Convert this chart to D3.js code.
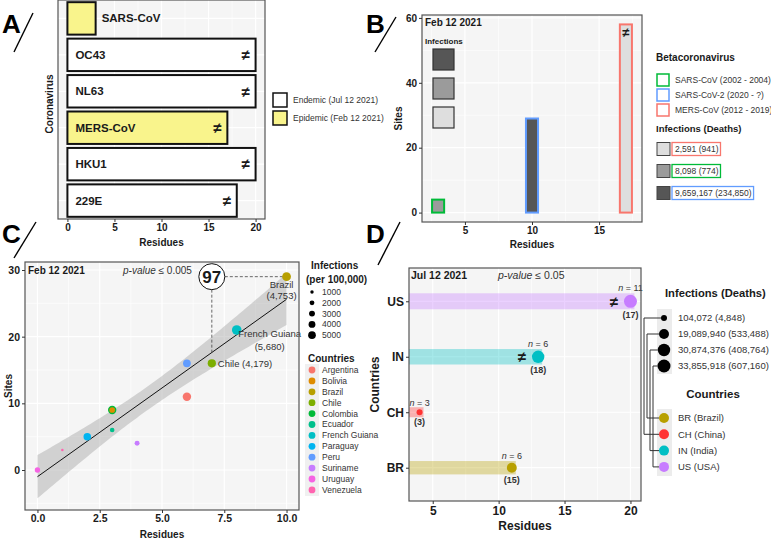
<!DOCTYPE html>
<html>
<head>
<meta charset="utf-8">
<script src="https://cdn.jsdelivr.net/npm/d3@7"></script>
<style>
  body { margin: 0; background: #fff; }
  svg { display: block; font-family: 'Liberation Sans', Arial, sans-serif; }
</style>
</head>
<body>
<svg width="771" height="539"></svg>
<script>
// A: common coronaviruses
const coronaviruses = ['SARS-CoV', 'OC43', 'NL63', 'MERS-CoV', 'HKU1', '229E']
const coronaResidues = [3, 20, 20, 17, 20, 18]
const coronaStatus = ['Epidemic', 'Endemic', 'Endemic', 'Epidemic', 'Endemic', 'Endemic']
const coronaDiffers = [false, true, true, true, true, true]
const statusKeys = ['Endemic', 'Epidemic']
const statusLabels = ['Endemic (Jul 12 2021)', 'Epidemic (Feb 12 2021)']

// B: betacoronavirus
const betaNames = ['SARS-CoV', 'SARS-CoV-2', 'MERS-CoV']
const betaLabels = ['SARS-CoV (2002 - 2004)', 'SARS-CoV-2 (2020 - ?)', 'MERS-CoV (2012 - 2019)']
const betaResidues = [3, 10, 17]
const betaSites = [4, 29, 58]
const betaInfections = [8098, 9659167, 2591]
const betaDeaths = [774, 234850, 941]
const betaDiffers = [false, false, true]

// C: south america, Feb 12 2021
const countries = ['Argentina', 'Bolivia', 'Brazil', 'Chile', 'Colombia', 'Ecuador', 'French Guiana',
  'Paraguay', 'Peru', 'Suriname', 'Uruguay', 'Venezuela']
const countryResidues = [6, 3, 10, 7, 3, 3, 8, 2, 6, 4, 0, 1]
const countrySites = [11, 9, 29, 16, 9, 6, 21, 5, 16, 4, 0, 3]
const countryIncidence = [4400, 2000, 4753, 4179, 4300, 1300, 5680, 3500, 3700, 1500, 1800, 400]
const incidenceBreaks = [1000, 2000, 3000, 4000, 5000]
const callout = 97

// D: Jul 12 2021
const regions = ['BR', 'CH', 'IN', 'US']
const regionNames = ['Brazil', 'China', 'India', 'USA']
const regionResidues = [11, 4, 13, 20]
const regionSites = [15, 3, 18, 17]
const regionN = [6, 3, 6, 11]
const regionInfections = [19089940, 104072, 30874376, 33855918]
const regionDeaths = [533488, 4848, 408764, 607160]
const regionDiffers = [false, false, true, true]

const FONT = "'Liberation Sans', Arial, sans-serif"
const PANEL_BG = '#f5f5f5'
const BORDER = '#555'
const INK = '#1a1a1a'
const HUE = ['#F8766D', '#DE8C00', '#B79F00', '#7CAE00', '#00BA38', '#00C08B', '#00BFC4',
  '#00B4F0', '#619CFF', '#C77CFF', '#F564E3', '#FF64B0']
const REGION_HUE = ['#B8A000', '#FF3333', '#00BFC4', '#C77CFF']
const BETA_HUE = ['#00BA38', '#619CFF', '#F8766D']
const fmt = d3.format(',')

const svg = d3.select('svg')

function panel (g, x, y, grid) {
  const [left, right] = d3.extent(x.range())
  const [top, bottom] = d3.extent(y.range())
  g.append('rect')
    .attr('x', left).attr('y', top)
    .attr('width', right - left).attr('height', bottom - top)
    .attr('fill', PANEL_BG)
  const lines = g.append('g').attr('stroke', '#fff')
  const vertical = (vals, w) => lines.selectAll(null).data(vals).enter().append('line')
    .attr('x1', d => d).attr('x2', d => d).attr('y1', top).attr('y2', bottom).attr('stroke-width', w)
  const horizontal = (vals, w) => lines.selectAll(null).data(vals).enter().append('line')
    .attr('y1', d => d).attr('y2', d => d).attr('x1', left).attr('x2', right).attr('stroke-width', w)
  vertical(grid.xMinor || [], 0.6)
  horizontal(grid.yMinor || [], 0.6)
  vertical(grid.xMajor || [], 1.2)
  horizontal(grid.yMajor || [], 1.2)
  return { left, right, top, bottom }
}

function frame (g, b) {
  g.append('rect')
    .attr('x', b.left).attr('y', b.top)
    .attr('width', b.right - b.left).attr('height', b.bottom - b.top)
    .attr('fill', 'none').attr('stroke', BORDER).attr('stroke-width', 1.2)
}

function axis (g, gen, transform, size) {
  const sel = g.append('g').attr('transform', transform).call(gen)
  sel.attr('font-family', FONT).attr('font-size', size).attr('font-weight', 'bold')
  sel.select('.domain').remove()
  sel.selectAll('.tick line').attr('stroke', '#333')
  sel.selectAll('.tick text').attr('fill', INK)
  return sel
}

function label (g, x, y, text, opts = {}) {
  return g.append('text')
    .attr('x', x).attr('y', y).attr('dy', '0.35em')
    .attr('font-size', opts.size || 10)
    .attr('font-weight', opts.weight || 'normal')
    .attr('font-style', opts.style || null)
    .attr('text-anchor', opts.anchor || 'start')
    .attr('fill', opts.fill || INK)
    .attr('transform', opts.rotate ? `rotate(-90 ${x} ${y})` : null)
    .text(text)
}

function letter (x, y, text, slash) {
  svg.append('text').attr('x', x).attr('y', y)
    .attr('font-size', 26).attr('font-weight', 'bold').attr('fill', '#000')
    .text(text)
  svg.append('line')
    .attr('x1', slash[0]).attr('y1', slash[1]).attr('x2', slash[2]).attr('y2', slash[3])
    .attr('stroke', '#000').attr('stroke-width', 1.4)
}

function pValue (g, x, y, value, size) {
  const t = g.append('text').attr('x', x).attr('y', y).attr('dy', '0.35em')
    .attr('font-size', size).attr('fill', '#333')
  t.append('tspan').attr('font-style', 'italic').text('p-value')
  t.append('tspan').text(` ≤ ${value}`)
}

// ---------- A ----------
const a = svg.append('g')
const ax = d3.scaleLinear().domain([-1, 21]).range([58, 265])
const ay = d3.scaleBand().domain(coronaviruses).range([0, 219]).paddingInner(0.11).paddingOuter(0.06)
const aTicks = [0, 5, 10, 15, 20]
const aBox = panel(a, ax, ay, {
  xMajor: aTicks.map(ax),
  xMinor: [2.5, 7.5, 12.5, 17.5].map(ax),
  yMajor: coronaviruses.map(d => ay(d) + ay.bandwidth() / 2)
})
const statusFill = d3.scaleOrdinal().domain(statusKeys).range(['#ffffff', '#f9f48c'])

a.selectAll(null).data(coronaviruses).enter().append('rect')
  .attr('x', ax(0)).attr('y', d => ay(d))
  .attr('width', (d, i) => ax(coronaResidues[i]) - ax(0))
  .attr('height', ay.bandwidth())
  .attr('fill', (d, i) => statusFill(coronaStatus[i]))
  .attr('stroke', '#111').attr('stroke-width', 2)

coronaviruses.forEach((d, i) => {
  const v = coronaResidues[i]
  const yc = ay(d) + ay.bandwidth() / 2
  label(a, v < 5 ? ax(v) + 6 : ax(0) + 8, yc, d, { size: 11.5, weight: 'bold' })
  if (coronaDiffers[i]) label(a, ax(v) - 10, yc, '≠', { size: 15, weight: 'bold', anchor: 'middle' })
})
frame(a, aBox)
axis(a, d3.axisBottom(ax).tickValues(aTicks).tickSize(3).tickPadding(2), `translate(0,${aBox.bottom})`, 10)
label(a, (aBox.left + aBox.right) / 2, 242, 'Residues', { size: 10, weight: 'bold', anchor: 'middle' })
label(a, 49, 104, 'Coronavirus', { size: 10, weight: 'bold', anchor: 'middle', rotate: true })

statusKeys.forEach((k, i) => {
  a.append('rect').attr('x', 273).attr('y', 93 + i * 18).attr('width', 14).attr('height', 14)
    .attr('fill', statusFill(k)).attr('stroke', '#111').attr('stroke-width', 1.5)
  label(a, 293, 100 + i * 18, statusLabels[i], { size: 8.5, fill: '#333' })
})
letter(2, 33, 'A', [33, 13, 14, 52])

// ---------- B ----------
const b = svg.append('g')
const bx = d3.scaleLinear().domain([1.8, 18.2]).range([422, 642])
const by = d3.scaleLinear().domain([-2.9, 60.9]).range([222, 15])
const bBox = panel(b, bx, by, {
  xMajor: [5, 10, 15].map(bx),
  xMinor: [2.5, 7.5, 12.5, 17.5].map(bx),
  yMajor: [0, 20, 40, 60].map(by),
  yMinor: [10, 30, 50].map(by)
})
const betaRank = d3.range(betaNames.length).sort((p, q) => betaInfections[p] - betaInfections[q])
const shade = d3.scaleOrdinal().domain(betaRank).range(['#dedede', '#9b9b9b', '#565656'])

b.selectAll(null).data(betaNames).enter().append('rect')
  .attr('x', (d, i) => bx(betaResidues[i] - 0.45))
  .attr('width', bx(0.9) - bx(0))
  .attr('y', (d, i) => by(betaSites[i]))
  .attr('height', (d, i) => by(0) - by(betaSites[i]))
  .attr('fill', (d, i) => shade(i))
  .attr('stroke', (d, i) => BETA_HUE[i]).attr('stroke-width', 2)

betaNames.forEach((d, i) => {
  if (betaDiffers[i]) label(b, bx(betaResidues[i]), by(betaSites[i]) + 8, '≠', { size: 13, weight: 'bold', anchor: 'middle' })
})

label(b, 425, 22, 'Feb 12 2021', { size: 10, weight: 'bold' })
label(b, 425, 41, 'Infections', { size: 8, weight: 'bold' })
betaRank.slice().reverse().forEach((idx, k) => {
  b.append('rect').attr('x', 433).attr('y', 49 + k * 29).attr('width', 21).attr('height', 21)
    .attr('fill', shade(idx)).attr('stroke', '#333').attr('stroke-width', 1.2)
})
frame(b, bBox)
axis(b, d3.axisBottom(bx).tickValues([5, 10, 15]).tickSize(3).tickPadding(2), `translate(0,${bBox.bottom})`, 10)
axis(b, d3.axisLeft(by).tickValues([0, 20, 40, 60]).tickSize(3).tickPadding(2), `translate(${bBox.left},0)`, 10)
label(b, (bBox.left + bBox.right) / 2, 244, 'Residues', { size: 10, weight: 'bold', anchor: 'middle' })
label(b, 398, (bBox.top + bBox.bottom) / 2, 'Sites', { size: 10, weight: 'bold', anchor: 'middle', rotate: true })

label(b, 656, 57, 'Betacoronavirus', { size: 10, weight: 'bold' })
betaNames.forEach((d, i) => {
  b.append('rect').attr('x', 657).attr('y', 74 + i * 15).attr('width', 12).attr('height', 12)
    .attr('fill', '#fff').attr('stroke', BETA_HUE[i]).attr('stroke-width', 1.5)
  label(b, 675, 80 + i * 15, betaLabels[i], { size: 8.5, fill: '#333' })
})
label(b, 656, 129, 'Infections (Deaths)', { size: 9.5, weight: 'bold' })
betaRank.forEach((idx, k) => {
  const yc = 149 + k * 22
  b.append('rect').attr('x', 657).attr('y', yc - 6.5).attr('width', 13).attr('height', 13)
    .attr('fill', shade(idx)).attr('stroke', '#444').attr('stroke-width', 1)
  const t = label(b, 675, yc, `${fmt(betaInfections[idx])} (${fmt(betaDeaths[idx])})`, { size: 8.5, fill: '#333' })
  const w = t.node().getComputedTextLength()
  b.append('rect').attr('x', 672).attr('y', yc - 6.5).attr('width', w + 5).attr('height', 13)
    .attr('fill', 'none').attr('stroke', BETA_HUE[idx]).attr('stroke-width', 1.3)
})
letter(366, 33, 'B', [396, 17, 375, 52])

// ---------- C ----------
const c = svg.append('g')
const cx = d3.scaleLinear().domain([-0.5, 10.5]).range([25, 299])
const cy = d3.scaleLinear().domain([-6, 31.2]).range([510, 262])
const cBox = panel(c, cx, cy, {
  xMajor: [0, 2.5, 5, 7.5, 10].map(cx),
  xMinor: [1.25, 3.75, 6.25, 8.75].map(cx),
  yMajor: [0, 10, 20, 30].map(cy),
  yMinor: [-5, 5, 15, 25].map(cy)
})
const size = d3.scaleSqrt().domain([0, d3.max(countryIncidence)]).range([0, 4.8])
const hue = d3.scaleOrdinal().domain(countries).range(HUE)

// linear fit with 95% band
const n = countries.length
const mx = d3.mean(countryResidues)
const my = d3.mean(countrySites)
const sxx = d3.sum(countryResidues, v => (v - mx) ** 2)
const sxy = d3.sum(countryResidues.map((v, i) => (v - mx) * (countrySites[i] - my)))
const slope = sxy / sxx
const intercept = my - slope * mx
const fit = v => intercept + slope * v
const sse = d3.sum(countryResidues.map((v, i) => (countrySites[i] - fit(v)) ** 2))
const se = v => Math.sqrt(sse / (n - 2)) * Math.sqrt(1 / n + (v - mx) ** 2 / sxx)
const T_CRIT = 2.228
const [rMin, rMax] = d3.extent(countryResidues)
const along = d3.range(0, 81).map(k => rMin + (rMax - rMin) * k / 80)

c.append('path').datum(along)
  .attr('d', d3.area().x(v => cx(v)).y0(v => cy(fit(v) - T_CRIT * se(v))).y1(v => cy(fit(v) + T_CRIT * se(v))))
  .attr('fill', '#9a9a9a').attr('opacity', 0.4)
c.append('line')
  .attr('x1', cx(rMin)).attr('y1', cy(fit(rMin))).attr('x2', cx(rMax)).attr('y2', cy(fit(rMax)))
  .attr('stroke', '#111').attr('stroke-width', 1)

// callout linking Chile on the fit to Brazil
const chile = countries.indexOf('Chile')
const brazil = countries.indexOf('Brazil')
const calloutX = cx(countryResidues[chile])
const calloutY = cy(countrySites[brazil])
c.append('line').attr('x1', calloutX).attr('x2', calloutX)
  .attr('y1', calloutY + 13).attr('y2', cy(fit(countryResidues[chile])))
  .attr('stroke', '#444').attr('stroke-width', 0.8).attr('stroke-dasharray', '3,2')
c.append('line').attr('y1', calloutY).attr('y2', calloutY)
  .attr('x1', calloutX + 13).attr('x2', cx(countryResidues[brazil]))
  .attr('stroke', '#444').attr('stroke-width', 0.8).attr('stroke-dasharray', '3,2')

const drawOrder = d3.range(n).sort((p, q) => countryIncidence[q] - countryIncidence[p])
c.selectAll(null).data(drawOrder).enter().append('circle')
  .attr('cx', i => cx(countryResidues[i]))
  .attr('cy', i => cy(countrySites[i]))
  .attr('r', i => size(countryIncidence[i]))
  .attr('fill', i => hue(countries[i]))

c.append('circle').attr('cx', calloutX).attr('cy', calloutY).attr('r', 13)
  .attr('fill', '#fff').attr('stroke', '#111').attr('stroke-width', 1)
label(c, calloutX, calloutY + 0.5, callout, { size: 17, weight: 'bold', anchor: 'middle' })

const labelLayout = {
  'Chile': { dx: 6, dy: [0], anchor: 'start' },
  'French Guiana': { dx: 33, dy: [4, 17], anchor: 'middle' },
  'Brazil': { dx: -5, dy: [8, 19], anchor: 'middle' }
}
Object.keys(labelLayout).forEach(name => {
  const i = countries.indexOf(name)
  const lay = labelLayout[name]
  const lines = lay.dy.length === 1
    ? [`${name} (${fmt(countryIncidence[i])})`]
    : [name, `(${fmt(countryIncidence[i])})`]
  lines.forEach((t, k) => label(c, cx(countryResidues[i]) + lay.dx, cy(countrySites[i]) + lay.dy[k], t,
    { size: 9.5, fill: '#333', anchor: lay.anchor }))
})

label(c, 28, 270, 'Feb 12 2021', { size: 10, weight: 'bold' })
pValue(c, 123, 270, '0.005', 10)
frame(c, cBox)
axis(c, d3.axisBottom(cx).tickValues([0, 2.5, 5, 7.5, 10]).tickFormat(d3.format('.1f')).tickSize(3).tickPadding(2),
  `translate(0,${cBox.bottom})`, 10.5)
axis(c, d3.axisLeft(cy).tickValues([0, 10, 20, 30]).tickSize(3).tickPadding(2), `translate(${cBox.left},0)`, 10.5)
label(c, (cBox.left + cBox.right) / 2, 534, 'Residues', { size: 10, weight: 'bold', anchor: 'middle' })
label(c, 8, (cBox.top + cBox.bottom) / 2, 'Sites', { size: 10, weight: 'bold', anchor: 'middle', rotate: true })

label(c, 311, 265, 'Infections', { size: 10, weight: 'bold' })
label(c, 306, 279, '(per 100,000)', { size: 10, weight: 'bold' })
incidenceBreaks.forEach((v, k) => {
  c.append('circle').attr('cx', 312).attr('cy', 292 + k * 10.8).attr('r', size(v) * 0.85).attr('fill', '#000')
  label(c, 322, 292 + k * 10.8, v, { size: 8.5, fill: '#333' })
})
label(c, 308, 358, 'Countries', { size: 10, weight: 'bold' })
c.append('rect').attr('x', 305).attr('y', 364).attr('width', 14).attr('height', 132).attr('fill', '#f0f0f0')
countries.forEach((d, k) => {
  c.append('circle').attr('cx', 312).attr('cy', 370 + k * 10.9).attr('r', 3.4).attr('fill', hue(d))
  label(c, 322, 370 + k * 10.9, d, { size: 8.5, fill: '#333' })
})
letter(2, 243, 'C', [36, 222, 14, 258])

// ---------- D ----------
const dg = svg.append('g')
const dx = d3.scaleLinear().domain([3.2, 20.8]).range([409, 641])
const dy = d3.scalePoint().domain(regions).range([501, 268]).padding(0.6)
const dBox = panel(dg, dx, dy, {
  xMajor: [5, 10, 15, 20].map(dx),
  xMinor: [7.5, 12.5, 17.5].map(dx),
  yMajor: regions.map(dy)
})
const infExtent = d3.extent(regionInfections)
const dot = d3.scaleLinear().domain(infExtent).range([3, 6.5])
const thick = d3.scaleLinear().domain(infExtent).range([10, 16])

regions.forEach((d, i) => {
  const yc = dy(d)
  const v = regionResidues[i]
  const r = dot(regionInfections[i])
  const h = thick(regionInfections[i])
  dg.append('rect').attr('x', dBox.left).attr('y', yc - h / 2)
    .attr('width', dx(v + 0.3) - dBox.left).attr('height', h)
    .attr('fill', REGION_HUE[i]).attr('opacity', 0.35)
  dg.append('circle').attr('cx', dx(v)).attr('cy', yc).attr('r', r).attr('fill', REGION_HUE[i])
  if (regionDiffers[i]) label(dg, dx(v) - r - 10, yc, '≠', { size: 15, weight: 'bold', anchor: 'middle' })
  const nt = dg.append('text').attr('x', dx(v)).attr('y', yc - r - 6.5).attr('dy', '0.35em')
    .attr('text-anchor', 'middle').attr('font-size', 9).attr('fill', '#333')
  nt.append('tspan').attr('font-style', 'italic').text('n')
  nt.append('tspan').text(` = ${regionN[i]}`)
  label(dg, dx(v), yc + r + 7, `(${regionSites[i]})`, { size: 9, weight: 'bold', anchor: 'middle', fill: '#333' })
})

label(dg, 411, 275, 'Jul 12 2021', { size: 10.5, weight: 'bold' })
pValue(dg, 498, 275, '0.05', 10.5)
frame(dg, dBox)
axis(dg, d3.axisBottom(dx).tickValues([5, 10, 15, 20]).tickSize(3).tickPadding(2), `translate(0,${dBox.bottom})`, 12)
axis(dg, d3.axisLeft(dy).tickSize(3).tickPadding(2), `translate(${dBox.left},0)`, 12)
label(dg, (dBox.left + dBox.right) / 2, 526, 'Residues', { size: 12, weight: 'bold', anchor: 'middle' })
label(dg, 375, (dBox.top + dBox.bottom) / 2, 'Countries', { size: 12, weight: 'bold', anchor: 'middle', rotate: true })

// legend with links between infection sizes and countries
const infOrder = d3.range(regions.length).sort((p, q) => regionInfections[p] - regionInfections[q])
const LEG_X = 664
const infY = k => 318 + k * 16
const ctyY = k => 418 + k * 16.3
label(dg, 665, 293, 'Infections (Deaths)', { size: 11.2, weight: 'bold' })
dg.append('rect').attr('x', 657).attr('y', 309).attr('width', 15).attr('height', 65).attr('fill', '#ececec')
dg.append('rect').attr('x', 657).attr('y', 409).attr('width', 15).attr('height', 67).attr('fill', '#ececec')
infOrder.forEach((idx, k) => {
  const r = dot(regionInfections[idx])
  dg.append('path')
    .attr('d', `M${LEG_X - r},${infY(k)}H${LEG_X - 20 + k * 3}V${ctyY(idx)}H${LEG_X - 5}`)
    .attr('fill', 'none').attr('stroke', '#333').attr('stroke-width', 1)
  dg.append('circle').attr('cx', LEG_X).attr('cy', infY(k)).attr('r', r).attr('fill', '#000')
  label(dg, 678, infY(k), `${fmt(regionInfections[idx])} (${fmt(regionDeaths[idx])})`, { size: 9.5, fill: '#333' })
})
label(dg, 713, 394, 'Countries', { size: 11.5, weight: 'bold', anchor: 'middle' })
regions.forEach((d, k) => {
  dg.append('circle').attr('cx', LEG_X).attr('cy', ctyY(k)).attr('r', 5).attr('fill', REGION_HUE[k])
  label(dg, 678, ctyY(k), `${d} (${regionNames[k]})`, { size: 9.5, fill: '#333' })
})
letter(366, 243, 'D', [400, 222, 378, 265])
</script>
</body>
</html>
